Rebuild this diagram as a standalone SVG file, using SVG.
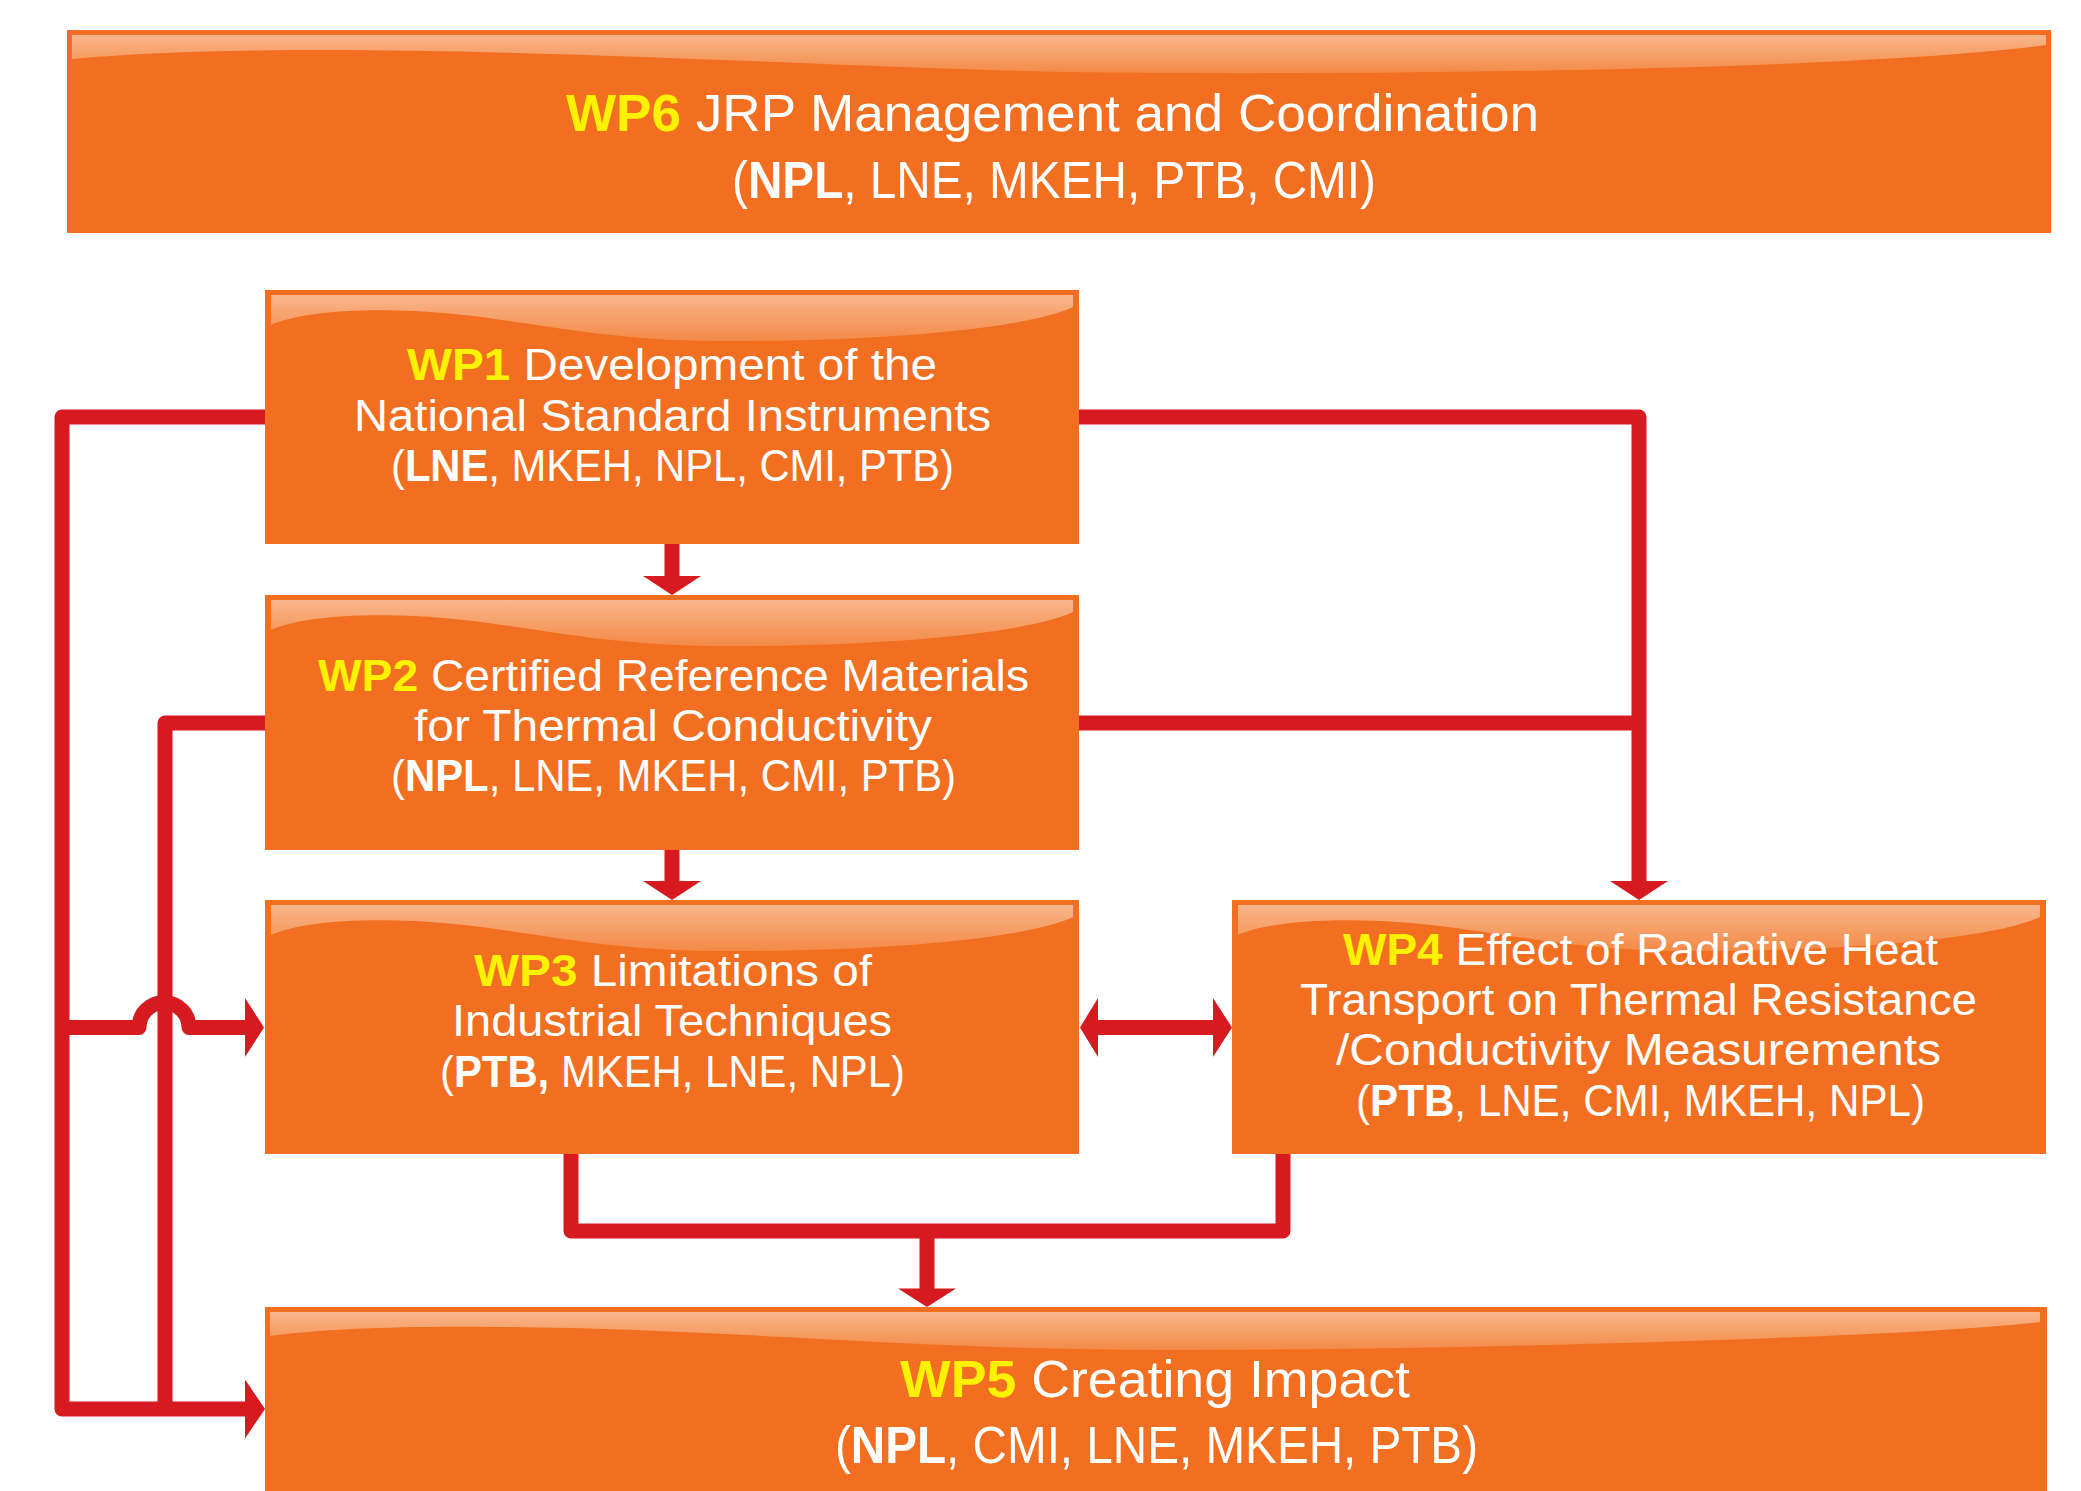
<svg xmlns="http://www.w3.org/2000/svg" xmlns:xlink="http://www.w3.org/1999/xlink" width="2081" height="1491" viewBox="0 0 2081 1491">
  <defs>
    <linearGradient id="glossFill" x1="0" y1="0" x2="0" y2="1">
      <stop offset="0" stop-color="#F9B68C"/>
      <stop offset="1" stop-color="#F38A47"/>
    </linearGradient>
    <!-- glossy highlight for the 814 px wide work-package boxes -->
    <path id="gloss-sm" d="M6,35 C30,24 80,18 150,21 C250,26 320,50 450,51 C600,52 760,40 808,17 V5 H6 Z"/>
    <!-- glossy highlight for the wide banners -->
    <path id="gloss-wp6" d="M5,29 C80,22 160,20 260,20 C500,20 800,38 1000,42 C1300,46 1800,40 1979,15 V5 H5 Z"/>
    <path id="gloss-wp5" d="M5,29 C60,22 130,19 230,20 C450,21 650,43 900,43 C1200,43 1650,30 1775,15 V5 H5 Z"/>
  </defs>
  <style>
    .box { fill: #F26F21; }
    .gloss { fill: url(#glossFill); }
    .txt { font-family: "Liberation Sans", Arial, sans-serif; fill: #FFFFFF; }
    .sm { font-size: 44.5px; }
    .lg { font-size: 52px; }
    .wp { font-weight: 700; fill: #FFF200; }
    .b { font-weight: 700; }
    .link { fill: none; stroke: #D71920; stroke-width: 15; stroke-linejoin: round; stroke-linecap: butt; }
    .head { fill: #D71920; }
  </style>

  <rect width="2081" height="1491" fill="#FFFFFF"/>

  <g id="wp6">
    <rect class="box" x="67" y="30" width="1984" height="203"/>
    <use xlink:href="#gloss-wp6" href="#gloss-wp6" class="gloss" x="67" y="30"/>
    <text class="txt lg"><tspan x="566" y="131" textLength="973" lengthAdjust="spacingAndGlyphs"><tspan class="wp">WP6</tspan> JRP Management and Coordination</tspan><tspan x="732" y="198" textLength="644" lengthAdjust="spacingAndGlyphs">(<tspan class="b">NPL</tspan>, LNE, MKEH, PTB, CMI)</tspan></text>
  </g>

  <g id="wp1">
    <rect class="box" x="265" y="290" width="814" height="254"/>
    <use xlink:href="#gloss-sm" href="#gloss-sm" class="gloss" x="265" y="290"/>
    <text class="txt sm"><tspan x="407" y="380" textLength="530" lengthAdjust="spacingAndGlyphs"><tspan class="wp">WP1</tspan> Development of the</tspan><tspan x="354" y="430.5" textLength="637" lengthAdjust="spacingAndGlyphs">National Standard Instruments</tspan><tspan x="391" y="481" textLength="563" lengthAdjust="spacingAndGlyphs">(<tspan class="b">LNE</tspan>, MKEH, NPL, CMI, PTB)</tspan></text>
  </g>

  <g id="wp2">
    <rect class="box" x="265" y="595" width="814" height="255"/>
    <use xlink:href="#gloss-sm" href="#gloss-sm" class="gloss" x="265" y="595"/>
    <text class="txt sm"><tspan x="318" y="690.5" textLength="711" lengthAdjust="spacingAndGlyphs"><tspan class="wp">WP2</tspan> Certified Reference Materials</tspan><tspan x="414" y="740.5" textLength="518" lengthAdjust="spacingAndGlyphs">for Thermal Conductivity</tspan><tspan x="391" y="791" textLength="565" lengthAdjust="spacingAndGlyphs">(<tspan class="b">NPL</tspan>, LNE, MKEH, CMI, PTB)</tspan></text>
  </g>

  <g id="wp3">
    <rect class="box" x="265" y="900" width="814" height="254"/>
    <use xlink:href="#gloss-sm" href="#gloss-sm" class="gloss" x="265" y="900"/>
    <text class="txt sm"><tspan x="474" y="986" textLength="398" lengthAdjust="spacingAndGlyphs"><tspan class="wp">WP3</tspan> Limitations of</tspan><tspan x="452" y="1036" textLength="440" lengthAdjust="spacingAndGlyphs">Industrial Techniques</tspan><tspan x="440" y="1086.5" textLength="465" lengthAdjust="spacingAndGlyphs">(<tspan class="b">PTB,</tspan> MKEH, LNE, NPL)</tspan></text>
  </g>

  <g id="wp4">
    <rect class="box" x="1232" y="900" width="814" height="254"/>
    <use xlink:href="#gloss-sm" href="#gloss-sm" class="gloss" x="1232" y="900"/>
    <text class="txt sm"><tspan x="1343" y="965" textLength="595" lengthAdjust="spacingAndGlyphs"><tspan class="wp">WP4</tspan> Effect of Radiative Heat</tspan><tspan x="1300" y="1015" textLength="677" lengthAdjust="spacingAndGlyphs">Transport on Thermal Resistance</tspan><tspan x="1336" y="1065" textLength="605" lengthAdjust="spacingAndGlyphs">/Conductivity Measurements</tspan><tspan x="1356" y="1115.5" textLength="569" lengthAdjust="spacingAndGlyphs">(<tspan class="b">PTB</tspan>, LNE, CMI, MKEH, NPL)</tspan></text>
  </g>

  <g id="wp5">
    <rect class="box" x="265" y="1307" width="1782" height="184"/>
    <use xlink:href="#gloss-wp5" href="#gloss-wp5" class="gloss" x="265" y="1307"/>
    <text class="txt lg"><tspan x="900" y="1397" textLength="510" lengthAdjust="spacingAndGlyphs"><tspan class="wp">WP5</tspan> Creating Impact</tspan><tspan x="835" y="1463" textLength="643" lengthAdjust="spacingAndGlyphs">(<tspan class="b">NPL</tspan>, CMI, LNE, MKEH, PTB)</tspan></text>
  </g>

  <g id="connectors">
    <!-- WP1 -> WP2 -->
    <path class="link" d="M672,544 V577"/>
    <polygon class="head" points="643,576 701,576 672,595"/>
    <!-- WP2 -> WP3 -->
    <path class="link" d="M672,850 V882"/>
    <polygon class="head" points="643,881 701,881 672,900"/>
    <!-- WP1 -> WP4 (right side) -->
    <path class="link" d="M1079,417 H1639 V882"/>
    <polygon class="head" points="1610,881 1668,881 1639,900"/>
    <!-- WP2 joins the right-hand feed -->
    <path class="link" d="M1079,723 H1639"/>
    <!-- WP1 -> WP5 (outer left loop) -->
    <path class="link" d="M265,417 H62 V1409 H246"/>
    <polygon class="head" points="245,1379.5 245,1438.5 265,1409"/>
    <!-- WP2 joins the bottom feed -->
    <path class="link" d="M265,723 H165 V1409"/>
    <!-- branch into WP3, hopping over the WP2 feed -->
    <path class="link" d="M62,1027.5 H139 A25,25 0 0 1 189,1027.5 H246"/>
    <polygon class="head" points="245,998 245,1057 264,1027.5"/>
    <!-- WP3 <-> WP4 -->
    <path class="link" d="M1097,1027.5 H1215"/>
    <polygon class="head" points="1098,998 1098,1057 1080,1027.5"/>
    <polygon class="head" points="1213,998 1213,1057 1232,1027.5"/>
    <!-- WP3 + WP4 -> WP5 -->
    <path class="link" d="M571,1154 V1231 H1283 V1154"/>
    <path class="link" d="M927,1231 V1290"/>
    <polygon class="head" points="898,1288.5 956,1288.5 927,1307"/>
  </g>
</svg>
